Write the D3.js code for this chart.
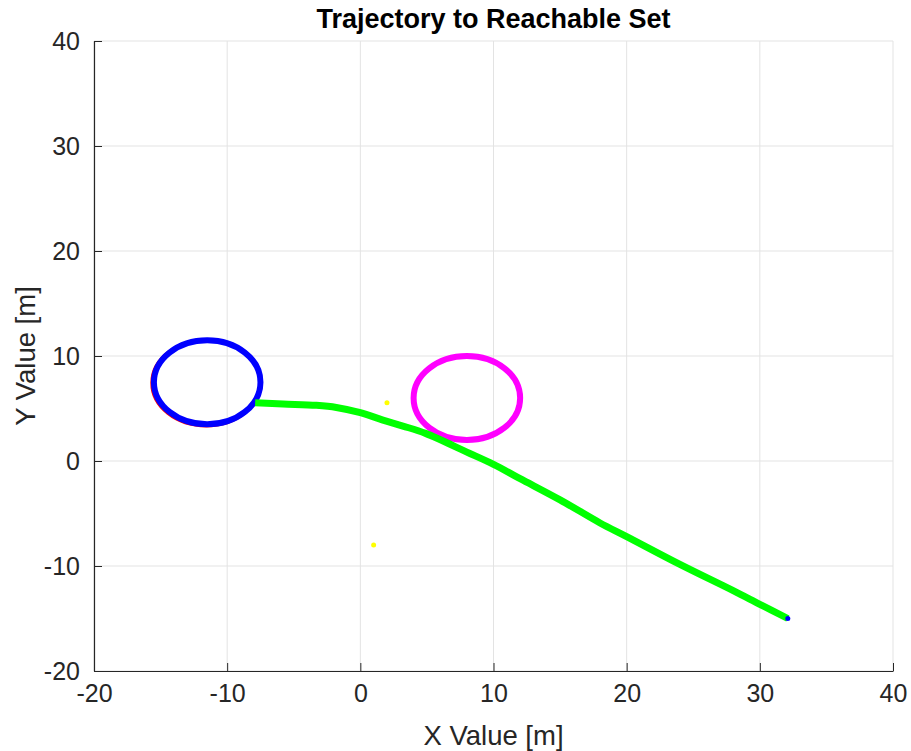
<!DOCTYPE html>
<html>
<head>
<meta charset="utf-8">
<script src="https://cdn.jsdelivr.net/npm/d3@7"></script>
<style>
  html, body { margin: 0; padding: 0; background: #fff; }
  svg { display: block; font-family: "Liberation Sans", Arial, Helvetica, sans-serif; }
</style>
</head>
<body>
<svg id="chart" width="911" height="751"></svg>
<script>
// Axis ticks
const xTicks = [-20, -10, 0, 10, 20, 30, 40];
const yTicks = [-20, -10, 0, 10, 20, 30, 40];

// Vehicle path (x, y) in metres
const pathX = [-7.9, -5.8, -3.3, -1.8, 0.0, 1.7, 3.2, 4.9, 8.0, 10.0, 12.0, 15.0, 18.0, 20.0, 24.0, 28.0, 30.0, 32.1];
const pathY = [5.55, 5.43, 5.3, 5.1, 4.6, 3.9, 3.33, 2.63, 0.85, -0.32, -1.68, -3.7, -5.9, -7.2, -9.85, -12.35, -13.65, -15.0];

// Circular sets: centre x, centre y, radius
const setNames  = ["start (ref)", "start", "goal"];
const setCx     = [-11.58, -11.5, 8.0];
const setCy     = [7.42, 7.5, 6.0];
const setR      = [4.08, 4.0, 4.0];
const setColor  = ["#ff0000", "#0000ff", "#ff00ff"];
const setWidth  = [3, 6, 6];

// Isolated markers
const dotX = [1.0, 2.0, 32.1];
const dotY = [-8.0, 5.55, -15.0];
const dotColor = ["#ffff00", "#ffff00", "#0000ff"];

const svg = d3.select("#chart");
const L = 94, R = 893, T = 41, B = 671;
const x = d3.scaleLinear().domain([-20, 40]).range([L, R]);
const y = d3.scaleLinear().domain([-20, 40]).range([B, T]);

const axisColor = "#262626";
const gridColor = "#e3e3e3";
const fmt = d => String(d); // plain hyphen-minus

// Grid
const grid = svg.append("g");
grid.selectAll(".gx").data(xTicks).join("line")
  .attr("x1", d => x(d)).attr("x2", d => x(d))
  .attr("y1", T).attr("y2", B)
  .attr("stroke", gridColor).attr("stroke-width", 1);
grid.selectAll(".gy").data(yTicks).join("line")
  .attr("y1", d => y(d)).attr("y2", d => y(d))
  .attr("x1", L).attr("x2", R)
  .attr("stroke", gridColor).attr("stroke-width", 1);

// Axes (ticks pointing inward)
const xAxis = d3.axisBottom(x).tickValues(xTicks).tickFormat(fmt).tickSizeInner(-8).tickSizeOuter(0).tickPadding(13);
const yAxis = d3.axisLeft(y).tickValues(yTicks).tickFormat(fmt).tickSizeInner(-8).tickSizeOuter(0).tickPadding(14);

const gx = svg.append("g").attr("transform", `translate(0,${B})`).call(xAxis);
const gy = svg.append("g").attr("transform", `translate(${L},0)`).call(yAxis);
[gx, gy].forEach(g => {
  g.select(".domain").attr("stroke", axisColor).attr("stroke-width", 1.2);
  g.selectAll(".tick line").attr("stroke", axisColor).attr("stroke-width", 1);
  g.selectAll(".tick text").attr("fill", axisColor)
    .style("font-size", "25px")
    .style("font-family", "'Liberation Sans', Arial, sans-serif");
});

// Circular sets
const sets = setNames.map((n, i) => ({ n, cx: setCx[i], cy: setCy[i], r: setR[i], c: setColor[i], w: setWidth[i] }));
svg.append("g").selectAll("ellipse").data(sets).join("ellipse")
  .attr("cx", d => x(d.cx)).attr("cy", d => y(d.cy))
  .attr("rx", d => x(d.cx + d.r) - x(d.cx))
  .attr("ry", d => y(d.cy) - y(d.cy + d.r))
  .attr("fill", "none").attr("stroke", d => d.c).attr("stroke-width", d => d.w);

// Path
const pts = pathX.map((v, i) => [v, pathY[i]]);
const line = d3.line().x(d => x(d[0])).y(d => y(d[1])).curve(d3.curveCatmullRom.alpha(0.5));
svg.append("path").datum(pts)
  .attr("d", line)
  .attr("fill", "none").attr("stroke", "#00ff00").attr("stroke-width", 7)
  .attr("stroke-linejoin", "round");

// Markers
svg.append("g").selectAll("circle").data(dotX.map((v, i) => ({ x: v, y: dotY[i], c: dotColor[i] })))
  .join("circle")
  .attr("cx", d => x(d.x)).attr("cy", d => y(d.y)).attr("r", 2.5)
  .attr("fill", d => d.c);

// Title and axis labels
svg.append("text").attr("x", (L + R) / 2).attr("y", 28)
  .attr("text-anchor", "middle").attr("fill", "#000")
  .style("font-size", "27px").style("font-weight", "bold")
  .text("Trajectory to Reachable Set");

svg.append("text").attr("x", (L + R) / 2).attr("y", 745)
  .attr("text-anchor", "middle").attr("fill", axisColor)
  .style("font-size", "27.5px")
  .text("X Value [m]");

svg.append("text").attr("transform", `translate(35,${(T + B) / 2}) rotate(-90)`)
  .attr("text-anchor", "middle").attr("fill", axisColor)
  .style("font-size", "27.5px")
  .text("Y Value [m]");
</script>
</body>
</html>
